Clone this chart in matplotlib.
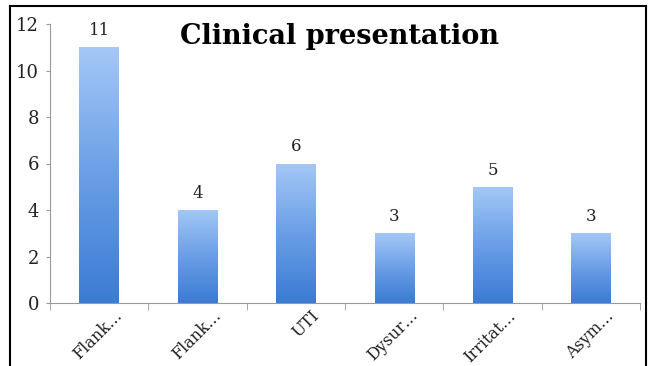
import numpy as np
import matplotlib.pyplot as plt
from matplotlib.colors import LinearSegmentedColormap
from matplotlib.patches import Rectangle
from matplotlib.transforms import ScaledTranslation

categories = ["Flank…", "Flank…", "UTI", "Dysur…", "Irritat…", "Asym…"]
counts = [11, 4, 6, 3, 5, 3]
yticks = [0, 2, 4, 6, 8, 10, 12]

serif = ["DejaVu Serif"]

fig = plt.figure(figsize=(6.5, 3.66), dpi=100)
ax = fig.add_axes([50 / 650, 1 - 303 / 366, 590 / 650, 279 / 366])

# outer frame (left, top, right only)
fig.add_artist(plt.Line2D([10 / 650, 10 / 650], [0, 1 - 6 / 366], color="black", lw=1.5, transform=fig.transFigure))
fig.add_artist(plt.Line2D([10 / 650, 646 / 650], [1 - 6 / 366, 1 - 6 / 366], color="black", lw=1.5, transform=fig.transFigure))
fig.add_artist(plt.Line2D([646 / 650, 646 / 650], [0, 1 - 6 / 366], color="black", lw=1.5, transform=fig.transFigure))

cmap = LinearSegmentedColormap.from_list("bar", ["#3b7bd4", "#6a9ee6", "#a4c8f7"])
grad = np.linspace(0, 1, 256).reshape(-1, 1)
width = 0.4
x = np.arange(len(categories))
for xi, v in zip(x, counts):
    rect = Rectangle((xi - width / 2, 0), width, v, facecolor="none", edgecolor="none")
    ax.add_patch(rect)
    im = ax.imshow(grad, cmap=cmap, origin="lower", aspect="auto",
                   extent=(xi - width / 2, xi + width / 2, 0, v), zorder=2)
    im.set_clip_path(rect)
    ax.text(xi, v + 0.35, str(v), ha="center", va="bottom", fontsize=12,
            family=serif, color="#222222")

ax.set_xlim(-0.5, len(categories) - 0.5)
ax.set_ylim(0, 12)
ax.set_yticks(yticks)
ax.set_yticklabels([str(t) for t in yticks], family=serif, fontsize=13, color="#222222")
ax.set_xticks(x)
ax.set_xticklabels(categories, rotation=45, ha="right", rotation_mode="anchor",
                   family=serif, fontsize=11.5, color="#222222")
ax.tick_params(axis="x", length=0, pad=3)
# shift the slanted labels so they end just right of the bar centre
shift = ScaledTranslation(0.15, 0, fig.dpi_scale_trans)
for lab in ax.get_xticklabels():
    lab.set_transform(lab.get_transform() + shift)
ax.set_xticks(np.arange(-0.5, len(categories)), minor=True)
ax.tick_params(axis="x", which="minor", length=5, color="#999999", direction="out")
ax.tick_params(axis="y", length=3, color="#999999", pad=5)

for s in ["top", "right"]:
    ax.spines[s].set_visible(False)
for s in ["left", "bottom"]:
    ax.spines[s].set_color("#999999")
    ax.spines[s].set_linewidth(0.8)

fig.text(340 / 650, 1 - 37 / 366, "Clinical presentation", ha="center", va="center",
         fontsize=19.5, fontweight="bold", family=serif)

fig.savefig("out.png", dpi=100)
